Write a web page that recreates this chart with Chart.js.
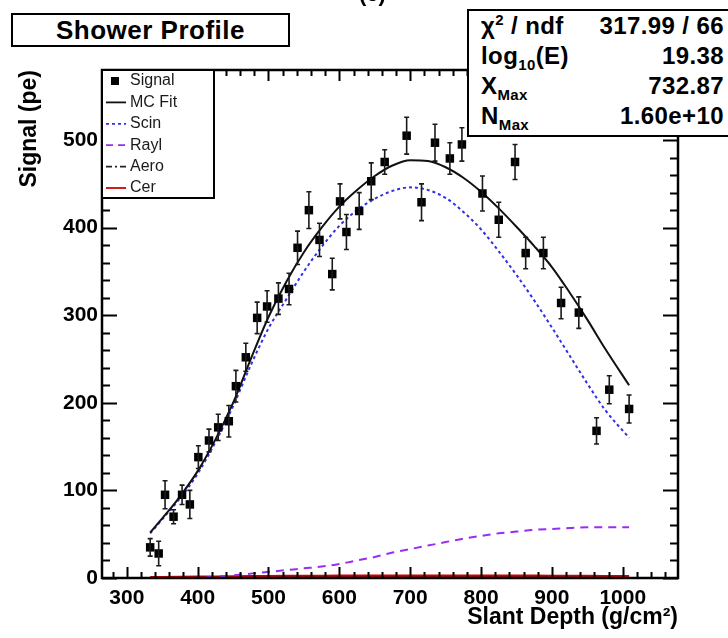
<!DOCTYPE html>
<html>
<head>
<meta charset="utf-8">
<script src="https://cdn.jsdelivr.net/npm/chart.js@4.4.1/dist/chart.umd.min.js"></script>
<style>
  body { margin: 0; background: #fff; }
  #wrap {
    position: relative; width: 728px; height: 638px; overflow: hidden;
    font-family: "Liberation Sans", Arial, Helvetica, sans-serif; background: #fff;
  }
  #showerChart { position: absolute; left: 0; top: 0; }
  #cLabel { position: absolute; left: 359px; top: -19px; font-size: 22px; font-weight: bold; }
  #titleBox {
    position: absolute; left: 11px; top: 13px; width: 275px; height: 30px;
    border: 2px solid #000; background: #fff; text-align: center;
    font-size: 26px; font-weight: bold; line-height: 31px; letter-spacing: 0.5px;
  }
  #statsBox {
    position: absolute; left: 467px; top: 9px; width: 275px; height: 124px;
    border: 2px solid #000; background: #fff; font-weight: bold; font-size: 24px;
  }
  .row { display: flex; justify-content: space-between; height: 30px; line-height: 30px;
         padding: 0 20px 0 12px; letter-spacing: 0.4px; }
  .row sub { font-size: 15px; vertical-align: -6px; line-height: 0; }
  .row sup { font-size: 15px; vertical-align: 9px; line-height: 0; }
</style>
</head>
<body>
<div id="wrap">
  <canvas id="showerChart" width="728" height="638"></canvas>
  <div id="cLabel">(c)</div>
  <div id="titleBox">Shower Profile</div>
  <div id="statsBox">
    <div class="row"><span>&chi;<sup>2</sup> / ndf</span><span>317.99 / 66</span></div>
    <div class="row"><span>log<sub>10</sub>(E)</span><span>19.38</span></div>
    <div class="row"><span>X<sub>Max</sub></span><span>732.87</span></div>
    <div class="row"><span>N<sub>Max</sub></span><span>1.60e+10</span></div>
  </div>
</div>
<script>
// measured points
const signalDepth = [333, 345, 354, 366, 378, 389, 401, 416, 429, 444, 454, 468, 484, 498, 514, 529, 541, 557, 572, 590,
  601, 610, 628, 645, 664, 695, 716, 735, 756, 773, 802, 825, 848, 863, 888, 913, 938, 963, 981, 1009];
const signalValue = [35, 28, 95, 70, 95, 84, 138, 157, 172, 179, 219, 252, 297, 310, 319, 330, 377, 420, 386, 347,
  430, 395, 419, 453, 475, 505, 429, 497, 479, 495, 439, 409, 475, 371, 371, 314, 303, 168, 215, 193];
const signalError = [10, 14, 16, 8, 11, 16, 13, 13, 15, 18, 18, 16, 18, 18, 18, 18, 19, 21, 19, 18,
  20, 20, 21, 21, 14, 21, 21, 21, 18, 19, 20, 20, 20, 18, 18, 18, 18, 15, 16, 16];

// fitted components
const fitDepth = [333, 350, 375, 400, 425, 450, 475, 500, 525, 550, 575, 600, 625, 650,
  675, 700, 725, 750, 775, 800, 825, 850, 875, 900, 925, 950, 975, 1009];
const mcFit = [52, 68, 93, 122, 158, 200, 250, 298, 338, 372, 400, 424, 443, 459,
  471, 477, 476, 469, 457, 441, 422, 401, 379, 355, 326, 295, 262, 220];
const scin = [51, 67, 91, 119, 155, 196, 243, 285, 318, 350, 378, 402, 420, 433,
  442, 446, 443, 434, 418, 398, 373, 346, 317, 286, 254, 222, 192, 160];
const rayl = [0, 0, 0, 0.3, 1.5, 3, 5, 7, 9, 11, 13, 16, 20, 24,
  29, 33, 37, 41, 45, 48, 51, 53, 55, 56, 57, 58, 58, 58];
const aero = [0.1, 0.1, 0.2, 0.2, 0.3, 0.3, 0.4, 0.4, 0.5, 0.5, 0.5, 0.6, 0.6, 0.6,
  0.6, 0.6, 0.6, 0.6, 0.6, 0.6, 0.6, 0.5, 0.5, 0.5, 0.5, 0.5, 0.4, 0.4];
const cer = [0.5, 0.6, 0.8, 1.0, 1.2, 1.4, 1.6, 1.8, 1.9, 2.0, 2.1, 2.2, 2.3, 2.3,
  2.4, 2.4, 2.4, 2.4, 2.4, 2.3, 2.3, 2.2, 2.2, 2.1, 2.0, 1.9, 1.8, 1.7];

const xTicks = [300, 400, 500, 600, 700, 800, 900, 1000];
const yTicks = [0, 100, 200, 300, 400, 500];

const FONT = '"Liberation Sans", Arial, Helvetica, sans-serif';
const SCIN_COLOR = '#3030e8';
const RAYL_COLOR = '#9a2ef0';
const CER_COLOR = '#d00000';

const toPoints = (xs, ys) => xs.map((x, i) => ({ x, y: ys[i] }));

// error bars on the signal points
const errorBars = {
    id: 'errorBars',
    afterDatasetsDraw(chart) {
        const { ctx, scales: { x, y } } = chart;
        ctx.save();
        ctx.strokeStyle = '#1a1a1a';
        ctx.lineWidth = 1.6;
        signalDepth.forEach((d, i) => {
            const px = x.getPixelForValue(d);
            const top = y.getPixelForValue(signalValue[i] + signalError[i]);
            const bot = y.getPixelForValue(signalValue[i] - signalError[i]);
            ctx.beginPath();
            ctx.moveTo(px, top); ctx.lineTo(px, bot);
            ctx.moveTo(px - 2.5, top); ctx.lineTo(px + 2.5, top);
            ctx.moveTo(px - 2.5, bot); ctx.lineTo(px + 2.5, bot);
            ctx.stroke();
        });
        ctx.restore();
    }
};

// ROOT style frame with inward ticks on all four sides
const frameTicks = {
    id: 'frameTicks',
    afterDatasetsDraw(chart) {
        const { ctx, chartArea: a, scales: { x, y } } = chart;
        ctx.save();
        ctx.strokeStyle = '#000';
        ctx.lineWidth = 2;
        ctx.beginPath();
        for (let v = Math.ceil(x.min / 20) * 20; v <= x.max; v += 20) {
            const px = Math.round(x.getPixelForValue(v)) + 0.5;
            const len = v % 100 === 0 ? 11 : 6;
            ctx.moveTo(px, a.bottom); ctx.lineTo(px, a.bottom - len);
            ctx.moveTo(px, a.top); ctx.lineTo(px, a.top + len);
        }
        for (let v = 0; v <= y.max; v += 20) {
            const py = Math.round(y.getPixelForValue(v)) + 0.5;
            const len = v % 100 === 0 ? 15 : 8;
            ctx.moveTo(a.left, py); ctx.lineTo(a.left + len, py);
            ctx.moveTo(a.right, py); ctx.lineTo(a.right - len, py);
        }
        ctx.stroke();
        ctx.lineWidth = 2.5;
        ctx.strokeRect(a.left, a.top, a.right - a.left, a.bottom - a.top);
        ctx.restore();
    }
};

// legend box in the top left corner of the frame
const legendBox = {
    id: 'legendBox',
    afterDraw(chart) {
        const { ctx, chartArea: a } = chart;
        const left = a.left, top = a.top, w = 112, h = 128;
        ctx.save();
        ctx.fillStyle = '#fff';
        ctx.fillRect(left, top, w, h);
        ctx.strokeStyle = '#000';
        ctx.lineWidth = 2;
        ctx.strokeRect(left, top, w, h);
        const entries = [
            { label: 'Signal', kind: 'marker' },
            { label: 'MC Fit', color: '#111', dash: [] },
            { label: 'Scin', color: SCIN_COLOR, dash: [3, 3] },
            { label: 'Rayl', color: RAYL_COLOR, dash: [7, 5] },
            { label: 'Aero', color: '#222', dash: [6, 3, 2, 3] },
            { label: 'Cer', color: CER_COLOR, dash: [] },
        ];
        ctx.font = '16px ' + FONT;
        ctx.textBaseline = 'middle';
        entries.forEach((e, i) => {
            const cy = top + 11 + i * 21.4;
            if (e.kind === 'marker') {
                ctx.fillStyle = '#000';
                ctx.fillRect(left + 9, cy - 4, 8, 8);
            } else {
                ctx.strokeStyle = e.color;
                ctx.lineWidth = 1.8;
                ctx.setLineDash(e.dash);
                ctx.beginPath();
                ctx.moveTo(left + 4, cy); ctx.lineTo(left + 24, cy);
                ctx.stroke();
                ctx.setLineDash([]);
            }
            ctx.fillStyle = '#1a1a1a';
            ctx.fillText(e.label, left + 28, cy);
        });
        ctx.restore();
    }
};

new Chart(document.getElementById('showerChart').getContext('2d'), {
    type: 'scatter',
    data: {
        datasets: [
            {
                label: 'Signal',
                data: toPoints(signalDepth, signalValue),
                pointStyle: 'rect',
                pointRadius: 6,
                backgroundColor: '#000',
                borderWidth: 0,
                order: 0,
            },
            {
                type: 'line', label: 'MC Fit', data: toPoints(fitDepth, mcFit),
                borderColor: '#111', borderWidth: 2, pointRadius: 0,
                cubicInterpolationMode: 'monotone', order: 1,
            },
            {
                type: 'line', label: 'Scin', data: toPoints(fitDepth, scin),
                borderColor: SCIN_COLOR, borderWidth: 2, borderDash: [3, 3], pointRadius: 0,
                cubicInterpolationMode: 'monotone', order: 2,
            },
            {
                type: 'line', label: 'Rayl', data: toPoints(fitDepth, rayl),
                borderColor: RAYL_COLOR, borderWidth: 2, borderDash: [8, 6], pointRadius: 0,
                cubicInterpolationMode: 'monotone', order: 3,
            },
            {
                type: 'line', label: 'Aero', data: toPoints(fitDepth, aero),
                borderColor: '#222', borderWidth: 1.5, borderDash: [6, 3, 2, 3], pointRadius: 0,
                order: 4,
            },
            {
                type: 'line', label: 'Cer', data: toPoints(fitDepth, cer),
                borderColor: CER_COLOR, borderWidth: 3, pointRadius: 0,
                order: 5,
            },
        ],
    },
    options: {
        responsive: false,
        animation: false,
        layout: { padding: { top: 70, right: 50, left: 0, bottom: 0 } },
        plugins: {
            legend: { display: false },
            tooltip: { enabled: false },
        },
        scales: {
            x: {
                type: 'linear',
                min: 265,
                max: 1078,
                afterBuildTicks: (scale) => { scale.ticks = xTicks.map(v => ({ value: v })); },
                afterFit: (scale) => { scale.height = 60; },
                grid: { display: false, drawTicks: false },
                border: { display: false },
                ticks: {
                    padding: 8,
                    color: '#000',
                    font: { family: FONT, size: 21, weight: 'bold' },
                    callback: (v) => String(v),
                },
                title: {
                    display: true,
                    text: 'Slant Depth (g/cm²)',
                    align: 'end',
                    color: '#000',
                    padding: { top: 0, bottom: 7 },
                    font: { family: FONT, size: 23, weight: 'bold' },
                },
            },
            y: {
                min: 0,
                max: 580,
                afterBuildTicks: (scale) => { scale.ticks = yTicks.map(v => ({ value: v })); },
                afterFit: (scale) => { scale.width = 102; },
                grid: { display: false, drawTicks: false },
                border: { display: false },
                ticks: {
                    padding: 4,
                    color: '#000',
                    font: { family: FONT, size: 21, weight: 'bold' },
                    callback: (v) => String(v),
                },
                title: {
                    display: true,
                    text: 'Signal (pe)',
                    align: 'end',
                    color: '#000',
                    padding: { top: 16, bottom: 0 },
                    font: { family: FONT, size: 23, weight: 'bold' },
                },
            },
        },
    },
    plugins: [errorBars, frameTicks, legendBox],
});
</script>
</body>
</html>
